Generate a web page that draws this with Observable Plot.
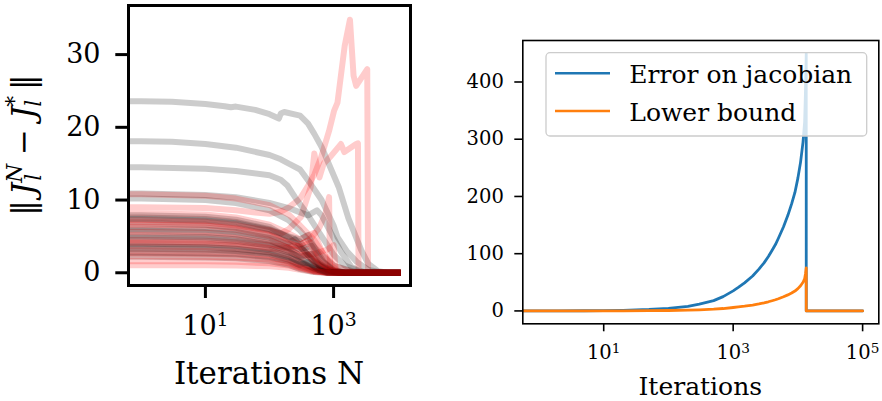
<!DOCTYPE html>
<html>
<head>
<meta charset="utf-8">
<script src="https://cdn.jsdelivr.net/npm/d3@7"></script>
<script src="https://cdn.jsdelivr.net/npm/@observablehq/plot@0.6"></script>
<style>
  html, body { margin: 0; padding: 0; background: white; }
  #wrap { position: relative; width: 882px; height: 401px; overflow: hidden; font-family: "DejaVu Serif", serif; }
  #wrap > svg { position: absolute; top: 0; }
</style>
</head>
<body>
<div id="wrap"></div>
<script>
// ---------- Left panel: ||J_l^N - J_l^*|| per layer, [N, value] (N = 0 is the start) ----------
const gray1 = [[0,23.6],[1,23.6],[3,23.5],[10,23.2],[20,22.9],[25,22.75],[30,22.85],[60,22.4],[100,21.8],[140,21.2],[150,21.9],[170,22.1],[300,21.6],[400,20.5],[500,19.1],[650,17.3],[1200,11.8],[1700,7.5],[2700,3.1],[3500,1.2],[5000,0.2],[7000,0],[10000,0]];
const gray2 = [[0,18.1],[1,18.1],[3,18.0],[10,17.7],[30,17.2],[100,16.2],[150,15.6],[200,15.0],[300,14.2],[400,12.7],[650,10.0],[1000,6.5],[1150,4.9],[1600,3.0],[2300,1.5],[3500,0.4],[6000,0],[10000,0]];
const gray3 = [[0,14.5],[1,14.5],[10,14.3],[30,14.0],[100,13.4],[150,12.8],[190,12.0],[250,10.4],[400,7.9],[600,5.5],[1000,2.5],[1500,1.0],[2500,0.2],[4000,0],[10000,0]];
const gray4 = [[0,10.9],[1,10.9],[10,10.7],[30,10.4],[100,9.6],[200,8.9],[300,8.3],[400,7.9],[550,8.6],[650,7.9],[1300,2.9],[1900,0.8],[3000,0],[10000,0]];
const gray5 = [[0,10.2],[1,10.2],[10,10.0],[30,9.6],[100,8.6],[200,7.2],[300,5.8],[450,4.0],[700,2.2],[1000,1.0],[2000,0.2],[3000,0],[10000,0]];
const gray6 = [[0,7.9],[1,7.9],[10,7.7],[30,7.3],[100,6.3],[200,4.8],[300,3.5],[500,1.6],[800,0.5],[1200,0],[10000,0]];
const gray7 = [[0,7.4],[1,7.4],[10,7.2],[30,6.8],[100,5.9],[200,4.9],[300,4.3],[400,2.8],[600,1.2],[1000,0.2],[2000,0],[10000,0]];
const gray8 = [[0,5.8],[1,5.8],[10,5.6],[30,5.3],[100,4.5],[200,3.4],[300,2.3],[500,0.9],[800,0.2],[1200,0],[10000,0]];
const gray9 = [[0,3.3],[1,3.3],[10,3.2],[30,3.0],[100,2.6],[200,1.8],[300,1.0],[500,0.3],[800,0],[10000,0]];
const gray10 = [[0,2.2],[1,2.2],[10,2.1],[30,2.0],[100,1.6],[200,1.1],[300,0.5],[500,0.1],[800,0],[10000,0]];
const gray11 = [[0,7.6],[1,7.6],[10,7.4],[30,7.0],[100,6.0],[200,5.0],[300,4.6],[400,5.2],[500,3.5],[700,1.5],[1000,0.4],[1500,0],[10000,0]];
const gray12 = [[0,6.8],[1,6.8],[10,6.6],[30,6.2],[100,5.3],[200,4.2],[250,4.6],[350,3.0],[500,1.4],[800,0.3],[1200,0],[10000,0]];
const gray13 = [[0,4.8],[1,4.8],[10,4.7],[30,4.4],[100,3.7],[200,2.8],[300,2.2],[450,2.6],[600,1.0],[900,0.2],[1300,0],[10000,0]];
const gray14 = [[0,4.0],[1,4.0],[10,3.9],[30,3.7],[100,3.1],[200,2.3],[300,1.4],[500,0.5],[800,0],[10000,0]];
const gray15 = [[0,2.8],[1,2.8],[10,2.7],[30,2.6],[100,2.2],[200,1.6],[300,1.1],[400,1.5],[600,0.3],[900,0],[10000,0]];
const gray16 = [[0,6.0],[1,6.0],[10,5.9],[30,5.6],[100,4.8],[200,3.9],[300,3.2],[450,3.7],[650,1.6],[1000,0.3],[1500,0],[10000,0]];
const gray17 = [[0,5.0],[1,5.0],[10,4.9],[30,4.6],[100,3.9],[200,3.0],[300,2.0],[500,0.8],[800,0.1],[1200,0],[10000,0]];
const gray18 = [[0,3.6],[1,3.6],[10,3.5],[30,3.3],[100,2.8],[200,2.1],[300,1.5],[500,0.6],[800,0],[10000,0]];

const red1 = [[0,9.0],[1,9.0],[10,8.9],[30,8.6],[60,8.3],[100,8.1],[150,8.4],[200,9.0],[300,10.2],[390,11.8],[500,13.5],[640,15.9],[850,19.5],[1020,22.3],[1150,23.4],[1490,31.2],[1800,34.8],[2050,27.1],[2250,25.7],[3350,28.0],[3450,0],[10000,0]];
const red2 = [[0,7.0],[1,7.0],[10,6.9],[30,6.5],[100,5.8],[150,5.4],[200,6.0],[310,7.7],[440,11.8],[500,16.4],[600,13.1],[700,15.0],[900,16.0],[1300,17.7],[1470,16.6],[2250,17.7],[2400,17.8],[2450,0],[10000,0]];
const red3 = [[0,4.5],[1,4.5],[10,4.4],[30,4.2],[100,3.8],[200,3.5],[300,3.8],[450,4.8],[600,6.2],[750,8.2],[850,10.4],[880,0.3],[1000,0],[10000,0]];
const red4 = [[0,6.3],[1,6.3],[10,6.2],[30,5.9],[100,5.0],[200,4.0],[300,3.5],[400,2.5],[600,1.0],[1000,0.2],[1500,0],[10000,0]];
const red5 = [[0,5.2],[1,5.2],[10,5.1],[30,4.8],[100,4.1],[200,3.2],[300,2.4],[500,2.6],[800,3.2],[1000,3.8],[1080,0.2],[1300,0],[10000,0]];
const red6 = [[0,4.1],[1,4.1],[10,4.0],[30,3.8],[100,3.3],[200,3.4],[300,3.0],[500,1.5],[700,0.5],[1000,0],[10000,0]];
const red7 = [[0,2.7],[1,2.7],[10,2.6],[30,2.5],[100,2.1],[200,1.5],[300,0.8],[500,0.2],[800,0],[10000,0]];
const red8 = [[0,1.05],[1,1.05],[10,1.04],[30,1.0],[100,0.9],[200,0.7],[300,0.4],[500,0.1],[800,0],[10000,0]];
const red9 = [[0,10.8],[1,10.8],[10,10.6],[30,10.2],[100,9.3],[200,8.0],[300,6.5],[500,4.5],[700,2.5],[1000,1.0],[2000,0.1],[3000,0],[10000,0]];
const red10 = [[0,3.6],[1,3.6],[10,3.5],[30,3.3],[100,2.9],[200,2.4],[300,1.6],[500,0.6],[800,0],[10000,0]];
const red11 = [[0,8.2],[1,8.2],[10,8.0],[30,7.6],[100,6.6],[200,5.4],[300,4.6],[500,5.5],[650,3.0],[900,1.0],[1300,0],[10000,0]];
const red12 = [[0,7.3],[1,7.3],[10,7.1],[30,6.7],[100,5.8],[200,4.5],[300,3.9],[400,4.4],[550,2.2],[800,0.6],[1200,0],[10000,0]];
const red13 = [[0,5.6],[1,5.6],[10,5.5],[30,5.2],[100,4.4],[200,3.4],[300,2.8],[400,3.3],[600,1.5],[900,0.3],[1200,0],[10000,0]];
const red14 = [[0,3.1],[1,3.1],[10,3.0],[30,2.9],[100,2.4],[200,1.8],[300,1.2],[500,0.4],[800,0],[10000,0]];
const red15 = [[0,1.6],[1,1.6],[10,1.6],[30,1.5],[100,1.3],[200,1.0],[300,0.6],[500,0.2],[800,0],[10000,0]];
const red16 = [[0,6.6],[1,6.6],[10,6.5],[30,6.1],[100,5.2],[200,4.1],[300,3.6],[450,4.2],[600,2.0],[900,0.5],[1300,0],[10000,0]];
const red17 = [[0,4.3],[1,4.3],[10,4.2],[30,4.0],[100,3.4],[200,2.6],[300,2.0],[400,2.4],[600,0.8],[900,0],[10000,0]];
const red18 = [[0,2.3],[1,2.3],[10,2.2],[30,2.1],[100,1.8],[200,1.3],[300,0.7],[500,0.2],[800,0],[10000,0]];

const grayRuns = [gray1, gray2, gray3, gray4, gray5, gray6, gray7, gray8, gray9, gray10, gray11, gray12, gray13, gray14, gray15, gray16, gray17, gray18];
const redRuns  = [red1, red2, red3, red4, red5, red6, red7, red8, red9, red10, red11, red12, red13, red14, red15, red16, red17, red18];

const leftYTicks = [0, 10, 20, 30];
const leftXTicks = [10, 1000];

// ---------- Right panel ----------
const iterN    = [0, 1, 2, 5, 10, 20, 50, 100, 200, 300, 500, 700, 1000, 1200, 1500, 2000, 2500, 3000, 3500, 4000, 4500, 5000, 6000, 7000, 8000, 9000, 10000, 11000, 12000, 12700, 13100, 13460, 13460, 20000, 50000, 100000];
const errorJac = [0, 0.1, 0.1, 0.3, 0.5, 1, 2.5, 4.5, 8, 12, 18, 25, 35, 41, 49, 61, 73, 84, 95, 106, 116, 127, 147, 167, 187, 207, 232, 260, 295, 330, 385, 450, 0, 0, 0, 0];
const lowerBnd = [0, 0.02, 0.02, 0.05, 0.08, 0.17, 0.4, 0.75, 1.3, 2, 3, 4.2, 6, 7, 8.3, 10.3, 12.3, 14.2, 16, 17.8, 19.5, 21.3, 24.7, 28, 31.3, 34.7, 39, 44, 50, 56, 65, 75, 0, 0, 0, 0];
const rightYTicks = [0, 100, 200, 300, 400];
const rightXTicks = [10, 1000, 100000];
const legendLabels = ["Error on jacobian", "Lower bound"];
const seriesColors = ["#1f77b4", "#ff7f0e"];

const wrap = document.getElementById("wrap");
const supFmt = d => "10^" + Math.round(Math.log10(d));
// non-positive values on a log axis are clipped to a tiny positive number (as matplotlib does)
const clipN = n => Math.max(n, 1e-3);

function superscriptTicks(svg) {
  d3.select(svg).selectAll('g[aria-label="x-axis tick label"] text').each(function () {
    const t = d3.select(this);
    const s = t.text();
    if (!s.includes("^")) return;
    const [base, exp] = s.split("^");
    t.text(null);
    t.append("tspan").text(base);
    t.append("tspan").attr("font-size", "0.7em").attr("dy", "-0.45em").text(exp);
  });
}

// Left plot
const leftMarks = [];
grayRuns.forEach((g, i) => {
  leftMarks.push(Plot.line(g, {x: d => clipN(d[0]), y: d => d[1], stroke: "black", strokeOpacity: 0.2, strokeWidth: 6, strokeLinecap: "square", clip: true}));
  leftMarks.push(Plot.line(redRuns[i], {x: d => clipN(d[0]), y: d => d[1], stroke: "red", strokeOpacity: 0.2, strokeWidth: 6, strokeLinecap: "square", clip: true}));
});
const left = Plot.plot({
  width: 440, height: 401,
  marginLeft: 128, marginRight: 30, marginTop: 5, marginBottom: 116,
  x: {type: "log", domain: [10 ** -0.2, 10 ** 4.2]},
  y: {domain: [-1.75, 36.75]},
  style: {fontFamily: "DejaVu Serif", color: "black", background: "transparent", overflow: "visible"},
  marks: [
    ...leftMarks,
    Plot.frame({stroke: "black", strokeWidth: 3}),
    Plot.axisY({ticks: leftYTicks, tickSize: 12.7, tickPadding: 15.3, strokeWidth: 3, fontSize: 27, label: null}),
    Plot.axisX({ticks: leftXTicks, tickSize: 13, tickPadding: 17, strokeWidth: 3, fontSize: 27, tickFormat: supFmt, label: null})
  ]
});
left.style.left = "0px";
superscriptTicks(left);
wrap.appendChild(left);

// Right plot
const rightData = iterN.map((n, i) => ({n: clipN(n), e: errorJac[i], l: lowerBnd[i]}));
const right = Plot.plot({
  width: 442, height: 401,
  marginLeft: 82.3, marginRight: 3.7, marginTop: 40, marginBottom: 77.7,
  x: {type: "log", domain: [10 ** -0.25, 10 ** 5.25]},
  y: {domain: [-22.5, 472.5]},
  style: {fontFamily: "DejaVu Serif", color: "black", background: "transparent", overflow: "visible"},
  marks: [
    Plot.line(rightData, {x: "n", y: "e", stroke: seriesColors[0], strokeWidth: 2.8, clip: true}),
    Plot.line(rightData, {x: "n", y: "l", stroke: seriesColors[1], strokeWidth: 2.8, clip: true}),
    Plot.frame({stroke: "black", strokeWidth: 1.6}),
    Plot.axisY({ticks: rightYTicks, tickSize: 8, tickPadding: 11, strokeWidth: 1.6, fontSize: 19.5, label: null}),
    Plot.axisX({ticks: rightXTicks, tickSize: 8, tickPadding: 13, strokeWidth: 1.6, fontSize: 19.5, tickFormat: supFmt, label: null})
  ]
});
right.style.left = "440px";
superscriptTicks(right);
wrap.appendChild(right);

// Overlay: axis titles and legend
const ov = d3.select(wrap).append("svg").attr("width", 882).attr("height", 401)
  .style("left", "0px").attr("font-family", "DejaVu Serif");

ov.append("text").attr("x", 269).attr("y", 383.5).attr("text-anchor", "middle")
  .attr("font-size", 31).text("Iterations N");
ov.append("text").attr("x", 700.3).attr("y", 395).attr("text-anchor", "middle")
  .attr("font-size", 25).text("Iterations");

// y label  ‖J_l^N − J_l^*‖
const yl = ov.append("text").attr("transform", "translate(34,145) rotate(-90)")
  .attr("text-anchor", "middle").attr("font-size", 31);
yl.append("tspan").text("\u2016");
yl.append("tspan").attr("font-style", "italic").attr("dx", 5).text("J");
yl.append("tspan").attr("font-size", 21.7).attr("dy", -12).attr("font-style", "italic").text("N");
yl.append("tspan").attr("font-size", 21.7).attr("dx", -17).attr("dy", 19).attr("font-style", "italic").text("l");
yl.append("tspan").attr("dx", 9).attr("dy", -7).text(" \u2212 ");
yl.append("tspan").attr("font-style", "italic").text("J");
yl.append("tspan").attr("font-size", 21.7).attr("dy", -12).text("*");
yl.append("tspan").attr("font-size", 21.7).attr("dx", -11).attr("dy", 19).attr("font-style", "italic").text("l");
yl.append("tspan").attr("dx", 10).attr("dy", -7).text("\u2016");

// legend
const lg = ov.append("g");
lg.append("rect").attr("x", 546).attr("y", 52.7).attr("width", 320.7).attr("height", 83.3)
  .attr("rx", 4).attr("fill", "white").attr("fill-opacity", 0.8)
  .attr("stroke", "#cccccc").attr("stroke-width", 1.3);
legendLabels.forEach((lab, i) => {
  const y = 73.3 + i * 37.7;
  lg.append("line").attr("x1", 555).attr("x2", 610).attr("y1", y).attr("y2", y)
    .attr("stroke", seriesColors[i]).attr("stroke-width", 2.6);
  lg.append("text").attr("x", 629.3).attr("y", y + 9.6).attr("font-size", 25).text(lab);
});
</script>
</body>
</html>
